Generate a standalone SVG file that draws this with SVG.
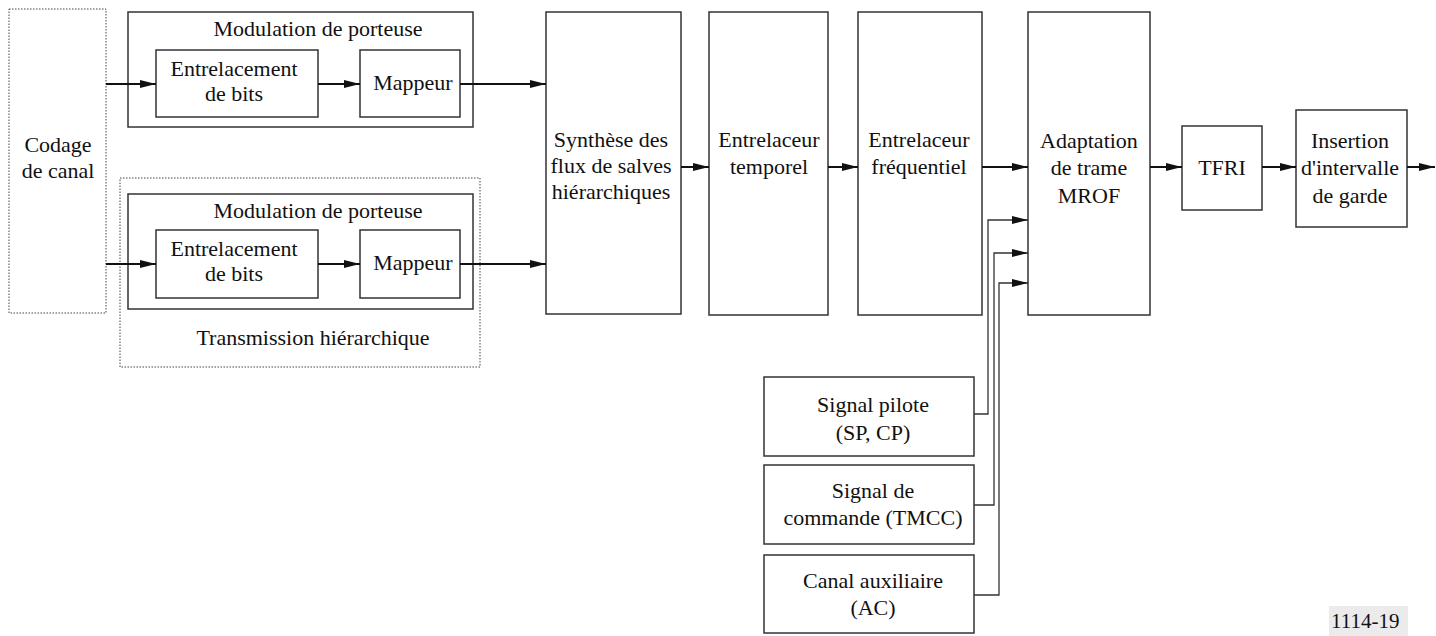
<svg xmlns="http://www.w3.org/2000/svg" width="1436" height="636" viewBox="0 0 1436 636">
<style>
.box{fill:#fff;stroke:#333;stroke-width:1.5}
.dot{fill:none;stroke:#444;stroke-width:1;stroke-dasharray:1.5 1.5}
.t{font-family:Liberation Serif, serif;font-size:22px;fill:#111;text-anchor:middle}
.a{fill:none;stroke:#111;stroke-width:2;marker-end:url(#ah)}
.c{fill:none;stroke:#333;stroke-width:1.3;marker-end:url(#ah)}
</style>
<defs>
<marker id="ah" markerUnits="userSpaceOnUse" markerWidth="17" markerHeight="9" refX="16" refY="4.5" orient="auto">
<path d="M0,0.5 L16,4.5 L0,8.5 z" fill="#111"/>
</marker>
</defs>
<rect width="1436" height="636" fill="#fff"/>
<g font-family="Liberation Serif, serif">
<g id="codage">
<rect class="dot" x="9" y="9" width="97" height="304"/>
<text class="t" x="58" y="152">Codage</text>
<text class="t" x="58" y="178">de canal</text>
</g>
<g id="modulation1">
<rect class="box" x="128" y="12" width="345" height="115"/>
<text class="t" x="318" y="36">Modulation de porteuse</text>
</g>
<g id="entrelacement1">
<rect class="box" x="156" y="50" width="162" height="67"/>
<text class="t" x="234" y="76">Entrelacement</text>
<text class="t" x="234" y="101">de bits</text>
</g>
<g id="mappeur1">
<rect class="box" x="360" y="50" width="100" height="67"/>
<text class="t" x="413" y="90">Mappeur</text>
</g>
<g id="hierarchique">
<rect class="dot" x="120" y="178" width="360" height="189"/>
<text class="t" x="313" y="345">Transmission hiérarchique</text>
</g>
<g id="modulation2">
<rect class="box" x="128" y="194" width="345" height="115"/>
<text class="t" x="318" y="218">Modulation de porteuse</text>
</g>
<g id="entrelacement2">
<rect class="box" x="156" y="230" width="162" height="68"/>
<text class="t" x="234" y="256">Entrelacement</text>
<text class="t" x="234" y="281">de bits</text>
</g>
<g id="mappeur2">
<rect class="box" x="360" y="230" width="100" height="68"/>
<text class="t" x="413" y="270">Mappeur</text>
</g>
<g id="synthese">
<rect class="box" x="546" y="12" width="135" height="302"/>
<text class="t" x="611" y="147">Synthèse des</text>
<text class="t" x="611" y="173">flux de salves</text>
<text class="t" x="611" y="199">hiérarchiques</text>
</g>
<g id="temporel">
<rect class="box" x="709" y="12" width="119" height="303"/>
<text class="t" x="769" y="147">Entrelaceur</text>
<text class="t" x="769" y="174">temporel</text>
</g>
<g id="frequentiel">
<rect class="box" x="858" y="12" width="124" height="303"/>
<text class="t" x="919" y="147">Entrelaceur</text>
<text class="t" x="919" y="174">fréquentiel</text>
</g>
<g id="mrof">
<rect class="box" x="1028" y="12" width="122" height="303"/>
<text class="t" x="1089" y="148">Adaptation</text>
<text class="t" x="1089" y="175">de trame</text>
<text class="t" x="1089" y="203">MROF</text>
</g>
<g id="tfri">
<rect class="box" x="1182" y="126" width="80" height="84"/>
<text class="t" x="1222" y="175">TFRI</text>
</g>
<g id="insertion">
<rect class="box" x="1296" y="110" width="111" height="117"/>
<text class="t" x="1350" y="148">Insertion</text>
<text class="t" x="1350" y="175">d'intervalle</text>
<text class="t" x="1350" y="203">de garde</text>
</g>
<g id="pilote">
<rect class="box" x="764" y="377" width="210" height="79"/>
<text class="t" x="873" y="412">Signal pilote</text>
<text class="t" x="873" y="440">(SP, CP)</text>
</g>
<g id="commande">
<rect class="box" x="764" y="465" width="210" height="79"/>
<text class="t" x="873" y="498">Signal de</text>
<text class="t" x="873" y="525">commande (TMCC)</text>
</g>
<g id="auxiliaire">
<rect class="box" x="764" y="555" width="210" height="78"/>
<text class="t" x="873" y="588">Canal auxiliaire</text>
<text class="t" x="873" y="615">(AC)</text>
</g>
</g>
<g id="connectors">
<path class="a" d="M106,84 H156"/>
<path class="a" d="M318,84 H360"/>
<path class="a" d="M460,84 H546"/>
<path class="a" d="M106,264 H156"/>
<path class="a" d="M318,264 H360"/>
<path class="a" d="M460,264 H546"/>
<path class="a" d="M681,167 H709"/>
<path class="a" d="M828,167 H858"/>
<path class="a" d="M982,167 H1028"/>
<path class="a" d="M1150,167 H1182"/>
<path class="a" d="M1262,167 H1296"/>
<path class="a" d="M1407,167 H1435"/>
<path class="c" d="M974,414 H988 V220 H1028"/>
<path class="c" d="M974,505 H994 V253 H1028"/>
<path class="c" d="M974,595 H999 V283 H1028"/>
</g>
<g id="ref">
<rect x="1329" y="606" width="79" height="30" fill="#ebebeb"/>
<text x="1331" y="628" font-family="Liberation Serif, serif" font-size="21" fill="#111">1114-19</text>
</g>
</svg>
